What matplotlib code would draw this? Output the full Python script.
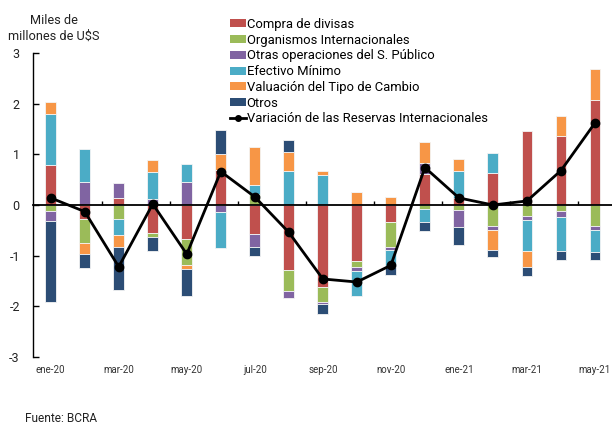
import matplotlib
matplotlib.use('Agg')
import matplotlib.pyplot as plt
import numpy as np
from matplotlib.patches import Patch
from matplotlib.lines import Line2D

plt.rcParams['font.family'] = ['Roboto', 'DejaVu Sans']
plt.rcParams['axes.unicode_minus'] = False

months = ['ene-20', 'feb-20', 'mar-20', 'abr-20', 'may-20', 'jun-20', 'jul-20', 'ago-20',
          'sep-20', 'oct-20', 'nov-20', 'dic-20', 'ene-21', 'feb-21', 'mar-21', 'abr-21', 'may-21']

compra_divisas = [0.78, -0.27, 0.13, -0.55, -0.68, 0.70, -0.57, -1.28, -1.62, -1.10, -0.33,
                  0.61, 0.13, 0.625, 1.47, 1.36, 2.08]
organismos = [-0.125, -0.48, -0.28, -0.09, -0.51, 0.0, 0.22, -0.42, -0.29, -0.13, -0.49,
              -0.08, -0.105, -0.41, -0.22, -0.125, -0.42]
otras_sp = [-0.19, 0.45, 0.30, 0.11, 0.45, -0.145, -0.26, -0.145, -0.05, -0.065, -0.065,
            0.22, -0.32, -0.09, -0.07, -0.11, -0.07]
efectivo_minimo = [1.02, 0.66, -0.32, 0.55, 0.36, -0.70, 0.18, 0.68, 0.59, -0.51, -0.33,
                   -0.26, 0.55, 0.40, -0.625, -0.68, -0.43]
valuacion = [0.24, -0.21, -0.22, 0.22, -0.08, 0.31, 0.74, 0.36, 0.085, 0.26, 0.165,
             0.41, 0.22, -0.39, -0.31, 0.395, 0.61]
otros = [-1.59, -0.29, -0.86, -0.26, -0.52, 0.48, -0.18, 0.25, -0.19, 0.0, -0.17,
         -0.18, -0.37, -0.145, -0.18, -0.17, -0.16]
variacion_reservas = [0.14, -0.13, -1.22, 0.02, -0.97, 0.66, 0.16, -0.54, -1.46, -1.52, -1.19,
                      0.74, 0.14, 0.0, 0.08, 0.68, 1.62]

series_names = ['Compra de divisas', 'Organismos Internacionales',
                'Otras operaciones del S. Público', 'Efectivo Mínimo',
                'Valuación del Tipo de Cambio', 'Otros']
series_values = [compra_divisas, organismos, otras_sp, efectivo_minimo, valuacion, otros]
colors = ['#C0504D', '#9BBB59', '#8064A2', '#4BACC6', '#F79646', '#2C4D75']

fig = plt.figure(figsize=(6.12, 4.26), dpi=100)
ax = fig.add_axes([33 / 612, 1 - 357 / 426, 1 - 33 / 612, (357 - 53) / 426])

x = np.arange(len(months))
pos_base = np.zeros(len(months))
neg_base = np.zeros(len(months))
for name, vals, col in zip(series_names, series_values, colors):
    v = np.array(vals, dtype=float)
    bottoms = np.where(v >= 0, pos_base, neg_base)
    ax.bar(x, v, width=0.32, bottom=bottoms, color=col, edgecolor='#f4f4f4',
           linewidth=0.6, zorder=2)
    pos_base = pos_base + np.where(v >= 0, v, 0)
    neg_base = neg_base + np.where(v < 0, v, 0)

ax.plot(x, variacion_reservas, color='black', lw=2, marker='o', markersize=6, zorder=5)

ax.set_xlim(-0.52, 16.5)
ax.set_ylim(-3, 3)
ax.set_yticks(np.arange(-3, 4, 1))
ax.tick_params(axis='y', direction='in', length=4, width=1, pad=9.5, labelsize=9,
               labelcolor='#222222')
ax.set_xticks(x[::2])
ax.set_xticklabels(months[::2])
ax.tick_params(axis='x', length=0, pad=6, labelsize=7, labelcolor='#333333')
for s in ['top', 'right', 'bottom']:
    ax.spines[s].set_visible(False)
ax.spines['left'].set_linewidth(1)

sec = ax.secondary_xaxis(0.5)
sec.set_xticks(np.arange(1.5, 16, 2))
sec.set_xticklabels([])
sec.tick_params(direction='out', length=3, width=1)
for s in sec.spines.values():
    s.set_linewidth(1.3)
sec.set_zorder(3)

handles = [Patch(facecolor=c, edgecolor='none') for c in colors]
handles.append(Line2D([], [], color='black', lw=2, marker='o', markersize=4))
labels = series_names + ['Variación de las Reservas Internacionales']
fig.legend(handles, labels, loc='upper left', bbox_to_anchor=(230 / 612, 1 - 18 / 426),
           frameon=False, fontsize=9.4, handlelength=1.22, handleheight=0.56,
           handletextpad=0.05, labelspacing=0.21, borderaxespad=0, borderpad=0)

fig.text(54 / 612, 1 - 28.5 / 426, 'Miles de\nmillones de U$S', ha='center', va='center',
         fontsize=9.2, linespacing=1.35, color='#222222')
fig.text(25 / 612, 1 - 418 / 426, 'Fuente: BCRA', ha='left', va='center', fontsize=8.6,
         color='#222222')

fig.savefig('out.png', dpi=100)
